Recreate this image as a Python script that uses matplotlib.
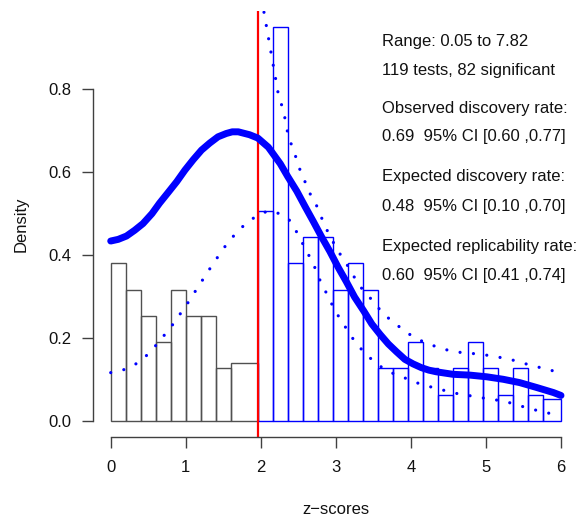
import matplotlib
matplotlib.use("Agg")
import matplotlib.pyplot as plt
import numpy as np

plt.rcParams['font.family'] = ['Liberation Sans', 'DejaVu Sans']

# ---- data ----
# histogram of non-significant z-scores (black) and significant ones (blue)
black_edges = [0.0, 0.2, 0.4, 0.6, 0.8, 1.0, 1.2, 1.4, 1.6, 1.96]
black_heights = [0.380, 0.316, 0.253, 0.190, 0.316, 0.253, 0.253, 0.127, 0.140]

blue_edges = [1.96, 2.16, 2.36, 2.56, 2.76, 2.96, 3.16, 3.36, 3.56, 3.76, 3.96,
              4.16, 4.36, 4.56, 4.76, 4.96, 5.16, 5.36, 5.56, 5.76, 6.0]
blue_heights = [0.506, 0.950, 0.380, 0.443, 0.443, 0.317, 0.380, 0.317, 0.127, 0.127,
                0.190, 0.127, 0.063, 0.127, 0.190, 0.127, 0.063, 0.127, 0.063, 0.053]

# fitted density (thick curve)
fit_x = [0.00, 0.10, 0.21, 0.32, 0.43, 0.55, 0.65, 0.77, 0.88, 0.99, 1.10, 1.21, 1.32,
         1.43, 1.54, 1.62, 1.70, 1.85, 1.96, 2.03, 2.10, 2.26, 2.36, 2.48, 2.59, 2.70,
         2.81, 2.92, 3.03, 3.14, 3.25, 3.37, 3.48, 3.59, 3.70, 3.81, 3.92, 4.03, 4.14,
         4.24, 4.34, 4.45, 4.56, 4.79, 5.01, 5.23, 5.45, 5.68, 5.90, 6.00]
fit_y = [0.434, 0.438, 0.446, 0.460, 0.476, 0.500, 0.525, 0.552, 0.577, 0.605, 0.630,
         0.653, 0.670, 0.685, 0.693, 0.697, 0.697, 0.690, 0.682, 0.671, 0.660, 0.620,
         0.589, 0.554, 0.517, 0.481, 0.444, 0.409, 0.371, 0.336, 0.299, 0.266, 0.234,
         0.209, 0.186, 0.167, 0.149, 0.138, 0.129, 0.123, 0.119, 0.116, 0.113, 0.111,
         0.107, 0.101, 0.093, 0.081, 0.069, 0.062]

# lower confidence band (dotted)
lo_x = [0.00, 0.16, 0.32, 0.46, 0.58, 0.69, 0.80, 0.90, 1.00, 1.09, 1.19, 1.27, 1.37,
        1.46, 1.56, 1.68, 1.80, 1.94, 2.10, 2.25, 2.39, 2.48, 2.54, 2.62, 2.70, 2.76,
        2.84, 2.99, 3.08, 3.18, 3.27, 3.39, 3.51, 3.65, 3.81, 3.97, 4.13, 4.30, 4.47,
        4.63, 4.80, 4.96, 5.25, 5.42, 5.59, 5.75, 5.92, 6.00]
lo_y = [0.117, 0.123, 0.136, 0.155, 0.178, 0.202, 0.226, 0.252, 0.277, 0.303, 0.330,
        0.354, 0.380, 0.405, 0.430, 0.455, 0.476, 0.494, 0.507, 0.500, 0.483, 0.455,
        0.434, 0.406, 0.380, 0.350, 0.321, 0.266, 0.240, 0.212, 0.187, 0.164, 0.143,
        0.125, 0.111, 0.101, 0.089, 0.081, 0.073, 0.066, 0.061, 0.056, 0.048, 0.039,
        0.030, 0.023, 0.016, 0.013]

# upper confidence band (dotted)
hi_x = [1.96, 2.05, 2.08, 2.11, 2.14, 2.17, 2.20, 2.23, 2.28, 2.32, 2.35, 2.40, 2.46,
        2.51, 2.58, 2.64, 2.73, 2.86, 3.02, 3.12, 3.22, 3.31, 3.42, 3.53, 3.64, 3.78,
        3.91, 4.06, 4.21, 4.39, 4.56, 4.74, 4.91, 5.08, 5.24, 5.41, 5.57, 5.84, 6.00]
hi_y = [1.070, 0.977, 0.946, 0.915, 0.884, 0.853, 0.822, 0.791, 0.760, 0.731, 0.701,
        0.670, 0.640, 0.611, 0.581, 0.553, 0.525, 0.468, 0.412, 0.386, 0.355, 0.327,
        0.305, 0.281, 0.257, 0.237, 0.218, 0.200, 0.188, 0.176, 0.168, 0.164, 0.162,
        0.157, 0.152, 0.145, 0.136, 0.124, 0.116]

z_crit = 1.96

info_lines = ["Range: 0.05 to 7.82",
              "119 tests, 82 significant",
              "Observed discovery rate:",
              "0.69  95% CI [0.60 ,0.77]",
              "Expected discovery rate:",
              "0.48  95% CI [0.10 ,0.70]",
              "Expected replicability rate:",
              "0.60  95% CI [0.41 ,0.74]"]

x_ticks = [0, 1, 2, 3, 4, 5, 6]
y_ticks = [0.0, 0.2, 0.4, 0.6, 0.8]
y_tick_labels = ["0.0", "0.2", "0.4", "0.6", "0.8"]

# ---- figure ----
W, H = 581, 517
fig = plt.figure(figsize=(W / 100, H / 100), dpi=100)
ax = fig.add_axes([92.7 / W, 1 - 437 / H, (579 - 92.7) / W, (437 - 11) / H])

axis_col = '#404040'
text_col = '#111111'

be = np.array(black_edges)
ax.bar(be[:-1], black_heights, width=np.diff(be), align='edge', fill=False,
       edgecolor='#505050', linewidth=1.0)
ble = np.array(blue_edges)
ax.bar(ble[:-1], blue_heights, width=np.diff(ble), align='edge', fill=False,
       edgecolor='#0000ff', linewidth=1.0)

ax.axvline(z_crit, color='#ff0000', linewidth=1.6)

ax.plot(fit_x, fit_y, color='#0000ff', linewidth=5, solid_capstyle='round',
        solid_joinstyle='round')
ax.plot(lo_x, lo_y, color='#0000ff', linewidth=2.3, linestyle=(0, (0.01, 4.2)),
        dash_capstyle='round')
ax.plot(hi_x, hi_y, color='#0000ff', linewidth=2.3, linestyle=(0, (0.01, 4.2)),
        dash_capstyle='round')

ax.set_xlim(-0.24, 6.24)
ax.set_ylim(-0.038, 0.988)

for s in ['top', 'right']:
    ax.spines[s].set_visible(False)
ax.spines['left'].set_bounds(0, 0.8)
ax.spines['bottom'].set_bounds(0, 6)
for s in ['left', 'bottom']:
    ax.spines[s].set_color(axis_col)
    ax.spines[s].set_linewidth(1.0)

ax.set_xticks(x_ticks)
ax.set_yticks(y_ticks)
ax.set_yticklabels(y_tick_labels)
ax.tick_params(axis='both', length=7.8, width=1.0, color=axis_col,
               labelsize=12, labelcolor=text_col)
ax.tick_params(axis='y', pad=7.3)
ax.tick_params(axis='x', pad=8.5)

ax.set_xlabel("z\u2212scores", fontsize=12, color=text_col)
ax.xaxis.set_label_coords(0.5, (437 - 510) / 426)
ax.xaxis.label.set_va('center')
ax.set_ylabel("Density", fontsize=12, color=text_col)
ax.yaxis.set_label_coords((21 - 92.7) / 486.3, 0.5)
ax.yaxis.label.set_va('center')

ys = [41.7, 70.5, 108.5, 136.5, 176.5, 206.5, 246.5, 275.5]
for t, y in zip(info_lines, ys):
    fig.text(381.7 / W, 1 - y / H, t, fontsize=12, color=text_col,
             ha='left', va='center')

fig.savefig("out.png", dpi=100)
